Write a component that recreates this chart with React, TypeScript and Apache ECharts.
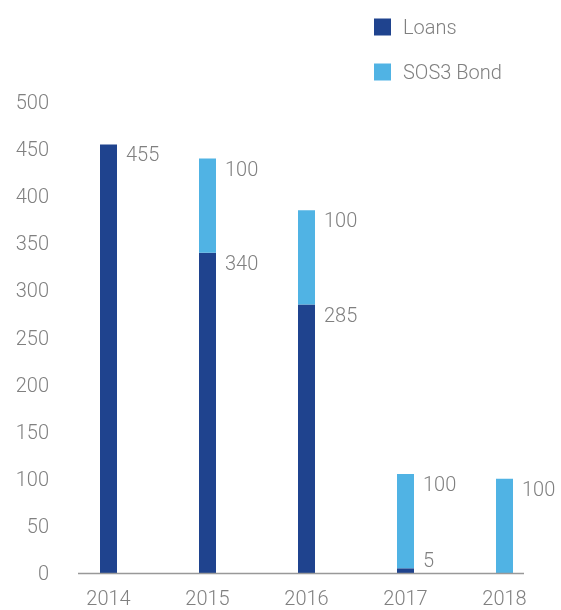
import React, { useEffect, useRef } from "react";
import * as echarts from "echarts";

const categories = ["2014", "2015", "2016", "2017", "2018"];
const loans: (number | null)[] = [455, 340, 285, 5, null];
const bond: (number | null)[] = [null, 100, 100, 100, 100];
const yTicks = { min: 0, max: 500, interval: 50 };

const DARK = "#1F438E";
const LIGHT = "#50B3E4";
const TEXT = "#808080";
const FONT = "Roboto";

export default function App() {
  const ref = useRef<HTMLDivElement>(null);
  useEffect(() => {
    if (!ref.current) return;
    const chart = echarts.init(ref.current, undefined, { renderer: "svg" });
    const labelBase = {
      show: true,
      position: [26, 0] as [number, number],
      color: TEXT,
      fontSize: 20,
      fontFamily: FONT,
      fontWeight: 300 as any,
      align: "left",
      verticalAlign: "top",
    };
    chart.setOption({
      animation: false,
      textStyle: { fontFamily: FONT },
      legend: {
        orient: "vertical",
        left: 369,
        top: 12,
        itemWidth: 17,
        itemHeight: 17,
        itemGap: 25,
        icon: "rect",
        textStyle: {
          color: TEXT,
          fontSize: 20,
          fontFamily: FONT,
          fontWeight: 300,
          padding: [0, 0, 0, 7],
        },
        data: ["Loans", "SOS3 Bond"],
      },
      grid: { left: 59, right: 7, top: 102, bottom: 37, containLabel: false },
      xAxis: {
        type: "category",
        data: categories,
        boundaryGap: true,
        axisLine: { show: false },
        axisTick: { show: false },
        axisLabel: {
          color: TEXT,
          fontSize: 20,
          fontFamily: FONT,
          fontWeight: 300,
          margin: 15,
        },
      },
      yAxis: {
        type: "value",
        min: yTicks.min,
        max: yTicks.max,
        interval: yTicks.interval,
        splitLine: { show: false },
        axisLine: { show: false },
        axisTick: { show: false },
        axisLabel: {
          color: TEXT,
          fontSize: 20,
          fontFamily: FONT,
          fontWeight: 300,
          margin: 10,
        },
      },
      graphic: [
        {
          type: "line",
          shape: { x1: 78, y1: 573.5, x2: 524, y2: 573.5 },
          style: { stroke: "#999999", lineWidth: 1.5 },
          z: 10,
        },
      ],
      series: [
        {
          name: "Loans",
          type: "bar",
          stack: "total",
          barWidth: 17,
          itemStyle: { color: DARK },
          label: labelBase,
          data: loans.map((v) =>
            v === null
              ? "-"
              : v < 20
              ? { value: v, label: { position: [26, -18] } }
              : v
          ),
        },
        {
          name: "SOS3 Bond",
          type: "bar",
          stack: "total",
          barWidth: 17,
          itemStyle: { color: LIGHT },
          label: labelBase,
          data: bond.map((v) => (v === null ? "-" : v)),
        },
      ],
    });
    return () => chart.dispose();
  }, []);
  return (
    <div
      ref={ref}
      style={{ position: "fixed", left: 0, top: 0, width: 561, height: 610 }}
    />
  );
}
